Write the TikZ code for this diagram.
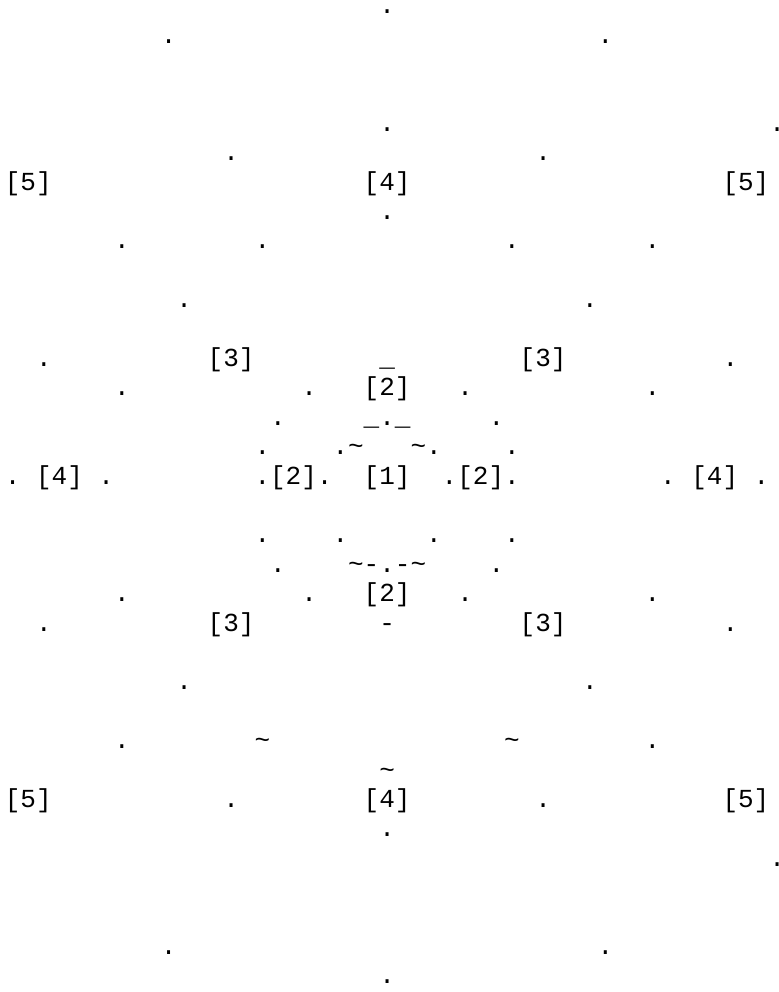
\documentclass[tikz,border=0pt]{standalone}
\usepackage{fontspec}
\setmonofont{Liberation Mono}
\tikzset{
  glyph/.style={font=\ttfamily\fontsize{13}{13}\selectfont,inner sep=0pt,anchor=base,text=black},
  tag/.style={glyph}
}

\begin{document}
\begin{tikzpicture}[x=7.8pt,y=-14.7pt]
  % Page
  \path[fill=white,use as bounding box] (-0.814,-0.466) rectangle (49.12,33.275);
  % Centre and rings
  \node[tag] (r1) at (24,16) {[1]};
  \node[tag] (r2n) at (24,13) {[2]};
  \node[tag] (r2w) at (18,16) {[2]};
  \node[tag] (r2e) at (30,16) {[2]};
  \node[tag] (r2s) at (24,20) {[2]};
  \node[tag] (r3nw) at (14,12) {[3]};
  \node[tag] (r3ne) at (34,12) {[3]};
  \node[tag] (r3sw) at (14,21) {[3]};
  \node[tag] (r3se) at (34,21) {[3]};
  \node[tag] (r4n) at (24,6) {[4]};
  \node[tag] (r4w) at (3,16) {[4]};
  \node[tag] (r4e) at (45,16) {[4]};
  \node[tag] (r4s) at (24,27) {[4]};
  \node[tag] (r5nw) at (1,6) {[5]};
  \node[tag] (r5ne) at (47,6) {[5]};
  \node[tag] (r5sw) at (1,27) {[5]};
  \node[tag] (r5se) at (47,27) {[5]};
  % Dots
  \foreach \c/\r in {24/0,10/1,38/1,24/4,49/4,14/5,34/5,24/7,
      7/8,16/8,32/8,41/8,11/10,37/10,2/12,46/12,
      7/13,19/13,29/13,41/13,17/14,24/14,31/14,
      16/15,21/15,27/15,32/15,
      0/16,6/16,16/16,20/16,28/16,32/16,42/16,48/16,
      16/18,21/18,27/18,32/18,17/19,24/19,31/19,
      7/20,19/20,29/20,41/20,2/21,46/21,11/23,37/23,
      7/25,41/25,14/27,34/27,24/28,49/29,10/32,38/32,24/33}
    \node[glyph] (d\c-\r) at (\c,\r) {.};
  % Strokes round the centre
  \node[glyph] (u1) at (24,12) {\_};
  \node[glyph] (u2) at (23,14) {\_};
  \node[glyph] (u3) at (25,14) {\_};
  \node[glyph] (t1) at (22,15) {\textasciitilde};
  \node[glyph] (t2) at (26,15) {\textasciitilde};
  \node[glyph] (t3) at (22,19) {\textasciitilde};
  \node[glyph] (h1) at (23,19) {-};
  \node[glyph] (h2) at (25,19) {-};
  \node[glyph] (t4) at (26,19) {\textasciitilde};
  \node[glyph] (h3) at (24,21) {-};
  \node[glyph] (t5) at (16,25) {\textasciitilde};
  \node[glyph] (t6) at (32,25) {\textasciitilde};
  \node[glyph] (t7) at (24,26) {\textasciitilde};
\end{tikzpicture}
\end{document}
